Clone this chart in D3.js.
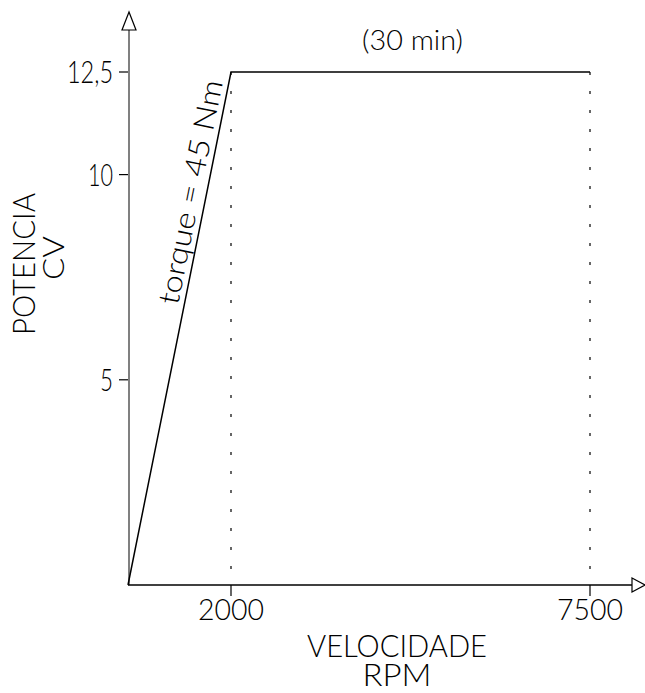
<!DOCTYPE html>
<html><head><meta charset="utf-8">
<script src="https://cdn.jsdelivr.net/npm/d3@7"></script>
<style>
html,body{margin:0;padding:0;background:#fff;}
text{font-family:Lato,"DejaVu Sans Condensed",sans-serif;font-weight:300;fill:#000;}
</style></head>
<body>
<svg id="c" width="645" height="693"></svg>
<script>
// Data
const speedRPM = [0, 2000, 7500];
const powerCV = [0, 12.5, 12.5];
const xTickValues = [2000, 7500];
const xTickLabels = ["2000", "7500"];
const yTickValues = [5, 10, 12.5];
const yTickLabels = ["5", "10", "12,5"];
const curveLabel = "torque = 45 Nm";
const topLabel = "(30 min)";
const xTitle = ["VELOCIDADE", "RPM"];
const yTitle = ["POTENCIA", "CV"];

const svg = d3.select("#c");
// schematic (non-uniform) axis as in the drawing
const x = d3.scaleLinear().domain([0, 2000, 7500]).range([128, 231, 590]);
const y = d3.scaleLinear().domain([0, 12.5]).range([585, 72]);

// dotted verticals
svg.selectAll("line.drop").data(xTickValues).enter().append("line")
  .attr("x1", d => x(d)).attr("x2", d => x(d))
  .attr("y1", y(12.5)).attr("y2", y(0))
  .attr("stroke", "#000").attr("stroke-width", 1.2).attr("stroke-dasharray", "3,16");

// y axis
svg.append("line").attr("x1", x(0)+1).attr("x2", x(0)+1).attr("y1", 30).attr("y2", y(0))
  .attr("stroke", "#808080").attr("stroke-width", 2);
svg.append("path").attr("d", `M${x(0)+1},12 L${x(0)-6},30 L${x(0)+8},30 Z`)
  .attr("fill", "#fff").attr("stroke", "#000").attr("stroke-width", 1.2);
svg.selectAll("line.yt").data(yTickValues).enter().append("line")
  .attr("x1", x(0)-9).attr("x2", x(0)).attr("y1", d => y(d)).attr("y2", d => y(d))
  .attr("stroke", "#000").attr("stroke-width", 1.2);
const yLen = {"5": 13, "10": 25, "12,5": 46};
svg.selectAll("text.yl").data(yTickValues).enter().append("text")
  .attr("x", x(0)-15).attr("y", d => y(d)+11).attr("text-anchor", "end")
  .attr("font-size", 31)
  .attr("textLength", (d, i) => yLen[yTickLabels[i]]).attr("lengthAdjust", "spacingAndGlyphs")
  .text((d, i) => yTickLabels[i]);

// x axis
svg.append("line").attr("x1", x(0)).attr("x2", 632).attr("y1", y(0)).attr("y2", y(0))
  .attr("stroke", "#000").attr("stroke-width", 1.5);
svg.append("path").attr("d", `M632,${y(0)-7} L645,${y(0)} L632,${y(0)+7} Z`)
  .attr("fill", "#fff").attr("stroke", "#000").attr("stroke-width", 1.2);
svg.selectAll("line.xt").data(xTickValues).enter().append("line")
  .attr("x1", d => x(d)).attr("x2", d => x(d)).attr("y1", y(0)).attr("y2", y(0)+11)
  .attr("stroke", "#000").attr("stroke-width", 1.2);
svg.selectAll("text.xl").data(xTickValues).enter().append("text")
  .attr("x", d => x(d)).attr("y", 620).attr("text-anchor", "middle")
  .attr("font-size", 30).attr("textLength", 66).attr("lengthAdjust", "spacingAndGlyphs")
  .text((d, i) => xTickLabels[i]);

// curve
const line = d3.line().x((d, i) => x(speedRPM[i])).y(d => y(d));
svg.append("path").datum(powerCV).attr("d", line)
  .attr("fill", "none").attr("stroke", "#000").attr("stroke-width", 1.5);

// curve label, placed along the rising segment
const ang = Math.atan2(y(powerCV[1]) - y(powerCV[0]), x(speedRPM[1]) - x(speedRPM[0])) * 180 / Math.PI;
const f = 0.76;
const lx = x(speedRPM[1] * f), ly = y(powerCV[1] * f);
svg.append("text").attr("transform", `translate(${lx},${ly}) rotate(${ang})`)
  .attr("y", -6).attr("text-anchor", "middle").attr("font-size", 29)
  .attr("textLength", 228).attr("lengthAdjust", "spacingAndGlyphs").text(curveLabel);

// top label
svg.append("text").attr("x", (x(2000) + x(7500)) / 2 + 2).attr("y", 50).attr("text-anchor", "middle")
  .attr("font-size", 27).attr("textLength", 101).attr("lengthAdjust", "spacingAndGlyphs").text(topLabel);

// axis titles
svg.append("text").attr("x", 397).attr("y", 657).attr("text-anchor", "middle")
  .attr("font-size", 31).attr("textLength", 180).attr("lengthAdjust", "spacingAndGlyphs").text(xTitle[0]);
svg.append("text").attr("x", 397).attr("y", 686).attr("text-anchor", "middle")
  .attr("font-size", 31).attr("textLength", 69).attr("lengthAdjust", "spacingAndGlyphs").text(xTitle[1]);
svg.append("text").attr("transform", "translate(35,264) rotate(-90)").attr("text-anchor", "middle")
  .attr("font-size", 32).attr("textLength", 142).attr("lengthAdjust", "spacingAndGlyphs").text(yTitle[0]);
svg.append("text").attr("transform", "translate(64,258) rotate(-90)").attr("text-anchor", "middle")
  .attr("font-size", 29).attr("textLength", 44).attr("lengthAdjust", "spacingAndGlyphs").text(yTitle[1]);
</script>
</body></html>
